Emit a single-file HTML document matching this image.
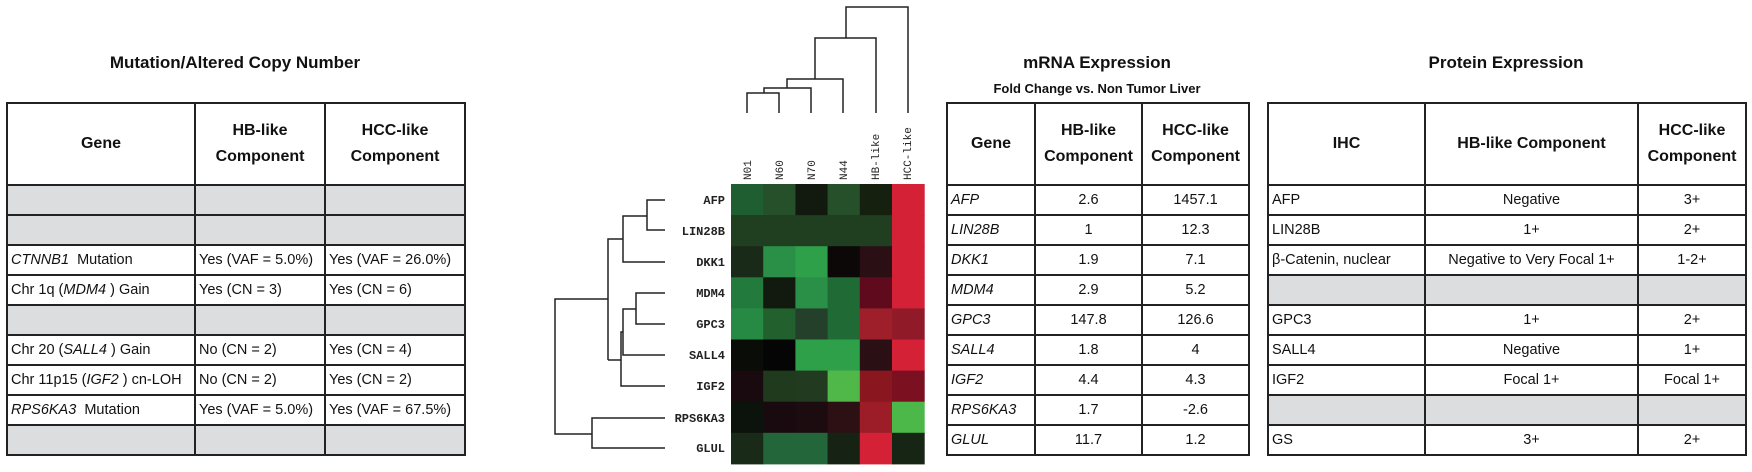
<!DOCTYPE html>
<html><head><meta charset="utf-8"><style>
body{margin:0;width:1752px;height:472px;background:#fff;position:relative;overflow:hidden;font-family:"Liberation Sans",sans-serif;color:#111}
table{position:absolute;border-collapse:collapse;table-layout:fixed;font-size:14.5px}
td{border:2.5px solid #222;padding:0 3px;height:28px;white-space:nowrap;overflow:hidden}
tr.h td{height:80px;font-weight:bold;font-size:16px;text-align:center;line-height:26px}
tr.g td{background:#dcdddf}
.c{text-align:center}
.t{position:absolute;font-weight:bold;font-size:17px;text-align:center}
i{font-style:italic}
</style></head><body>
<div class="t" style="left:6px;width:458px;top:53px">Mutation/Altered Copy Number</div>
<div class="t" style="left:946px;width:302px;top:53px">mRNA Expression</div>
<div class="t" style="left:946px;width:302px;top:81px;font-size:13px">Fold Change vs. Non Tumor Liver</div>
<div class="t" style="left:1267px;width:478px;top:53px">Protein Expression</div>

<table style="left:6px;top:102px;width:458px">
<colgroup><col style="width:188px"><col style="width:130px"><col style="width:140px"></colgroup>
<tr class="h"><td>Gene</td><td>HB-like<br>Component</td><td>HCC-like<br>Component</td></tr>
<tr class="g"><td></td><td></td><td></td></tr>
<tr class="g"><td></td><td></td><td></td></tr>
<tr><td><i>CTNNB1</i>&nbsp; Mutation</td><td>Yes (VAF = 5.0%)</td><td>Yes (VAF = 26.0%)</td></tr>
<tr><td>Chr 1q (<i>MDM4</i> ) Gain</td><td>Yes (CN = 3)</td><td>Yes (CN = 6)</td></tr>
<tr class="g"><td></td><td></td><td></td></tr>
<tr><td>Chr 20 (<i>SALL4</i> ) Gain</td><td>No (CN = 2)</td><td>Yes (CN = 4)</td></tr>
<tr><td>Chr 11p15 (<i>IGF2</i> ) cn-LOH</td><td>No (CN = 2)</td><td>Yes (CN = 2)</td></tr>
<tr><td><i>RPS6KA3</i>&nbsp; Mutation</td><td>Yes (VAF = 5.0%)</td><td>Yes (VAF = 67.5%)</td></tr>
<tr class="g"><td></td><td></td><td></td></tr>
</table>

<table style="left:946px;top:102px;width:302px">
<colgroup><col style="width:88px"><col style="width:107px"><col style="width:107px"></colgroup>
<tr class="h"><td>Gene</td><td>HB-like<br>Component</td><td>HCC-like<br>Component</td></tr>
<tr><td><i>AFP</i></td><td class="c">2.6</td><td class="c">1457.1</td></tr>
<tr><td><i>LIN28B</i></td><td class="c">1</td><td class="c">12.3</td></tr>
<tr><td><i>DKK1</i></td><td class="c">1.9</td><td class="c">7.1</td></tr>
<tr><td><i>MDM4</i></td><td class="c">2.9</td><td class="c">5.2</td></tr>
<tr><td><i>GPC3</i></td><td class="c">147.8</td><td class="c">126.6</td></tr>
<tr><td><i>SALL4</i></td><td class="c">1.8</td><td class="c">4</td></tr>
<tr><td><i>IGF2</i></td><td class="c">4.4</td><td class="c">4.3</td></tr>
<tr><td><i>RPS6KA3</i></td><td class="c">1.7</td><td class="c">-2.6</td></tr>
<tr><td><i>GLUL</i></td><td class="c">11.7</td><td class="c">1.2</td></tr>
</table>

<table style="left:1267px;top:102px;width:478px">
<colgroup><col style="width:157px"><col style="width:213px"><col style="width:108px"></colgroup>
<tr class="h"><td>IHC</td><td>HB-like Component</td><td>HCC-like<br>Component</td></tr>
<tr><td>AFP</td><td class="c">Negative</td><td class="c">3+</td></tr>
<tr><td>LIN28B</td><td class="c">1+</td><td class="c">2+</td></tr>
<tr><td>β-Catenin, nuclear</td><td class="c">Negative to Very Focal 1+</td><td class="c">1-2+</td></tr>
<tr class="g"><td></td><td></td><td></td></tr>
<tr><td>GPC3</td><td class="c">1+</td><td class="c">2+</td></tr>
<tr><td>SALL4</td><td class="c">Negative</td><td class="c">1+</td></tr>
<tr><td>IGF2</td><td class="c">Focal 1+</td><td class="c">Focal 1+</td></tr>
<tr class="g"><td></td><td></td><td></td></tr>
<tr><td>GS</td><td class="c">3+</td><td class="c">2+</td></tr>
</table>

<svg style="position:absolute;left:0;top:0" width="1752" height="472">
<g id="hm"></g>
<g fill="none" stroke="#222" stroke-width="1.5">
<path d="M747,113V93H779V113"/>
<path d="M764,93V88H811V113"/>
<path d="M787,88V79H843V113"/>
<path d="M815,79V38H876V113"/>
<path d="M846,38V7H908V113"/>
<path d="M665,200H647V230H665"/>
<path d="M647,216H623V262H665"/>
<path d="M623,239H608V360"/>
<path d="M665,293H636V324H665"/>
<path d="M636,309H623V355H665"/>
<path d="M623,332H621V386H665"/>
<path d="M621,360H608"/>
<path d="M608,299H555V434H592"/>
<path d="M665,418H592V448H665"/>
</g>
<g font-family="Liberation Mono,monospace" font-weight="bold" font-size="12" fill="#222" text-anchor="end">
<text x="725" y="204">AFP</text><text x="725" y="235">LIN28B</text><text x="725" y="266">DKK1</text>
<text x="725" y="297">MDM4</text><text x="725" y="328">GPC3</text><text x="725" y="359">SALL4</text>
<text x="725" y="390">IGF2</text><text x="725" y="422">RPS6KA3</text><text x="725" y="452">GLUL</text>
</g>
<g font-family="Liberation Mono,monospace" font-size="11" fill="#222" text-anchor="start">
<text transform="translate(751,180) rotate(-90)">N01</text>
<text transform="translate(783,180) rotate(-90)">N60</text>
<text transform="translate(815,180) rotate(-90)">N70</text>
<text transform="translate(847,180) rotate(-90)">N44</text>
<text transform="translate(879,180) rotate(-90)">HB-like</text>
<text transform="translate(911,180) rotate(-90)">HCC-like</text>
</g>
</svg>
<script>
var C=[
["#1f5e30","#25502a","#121a10","#25502a","#15200f","#d42136"],
["#203e20","#203e20","#203e20","#203e20","#203e20","#d42136"],
["#1a2a18","#2a9048","#2fa04a","#0c0808","#2a1015","#d42136"],
["#227a3c","#121a10","#2a9048","#1f6a35","#600a1e","#d42136"],
["#268a45","#22602e","#25402a","#1f6a35","#9e1e2a","#901a28"],
["#0a0c08","#050505","#2fa04a","#2fa04a","#2a1015","#d42136"],
["#180a0e","#203a1e","#223a20","#50b848","#8a1620","#7a1020"],
["#0c120c","#180a0e","#1c0c10","#2c1014","#9c1c28","#4cb84a"],
["#1a2a18","#22663a","#22663a","#162214","#d42136","#172515"]];
var s="";for(var r=0;r<9;r++)for(var c=0;c<6;c++){s+='<rect x="'+(731+c*32.2)+'" y="'+(184+r*31.1)+'" width="32.7" height="31.6" fill="'+C[r][c]+'"/>';}
document.getElementById("hm").innerHTML=s;
</script>
</body></html>
